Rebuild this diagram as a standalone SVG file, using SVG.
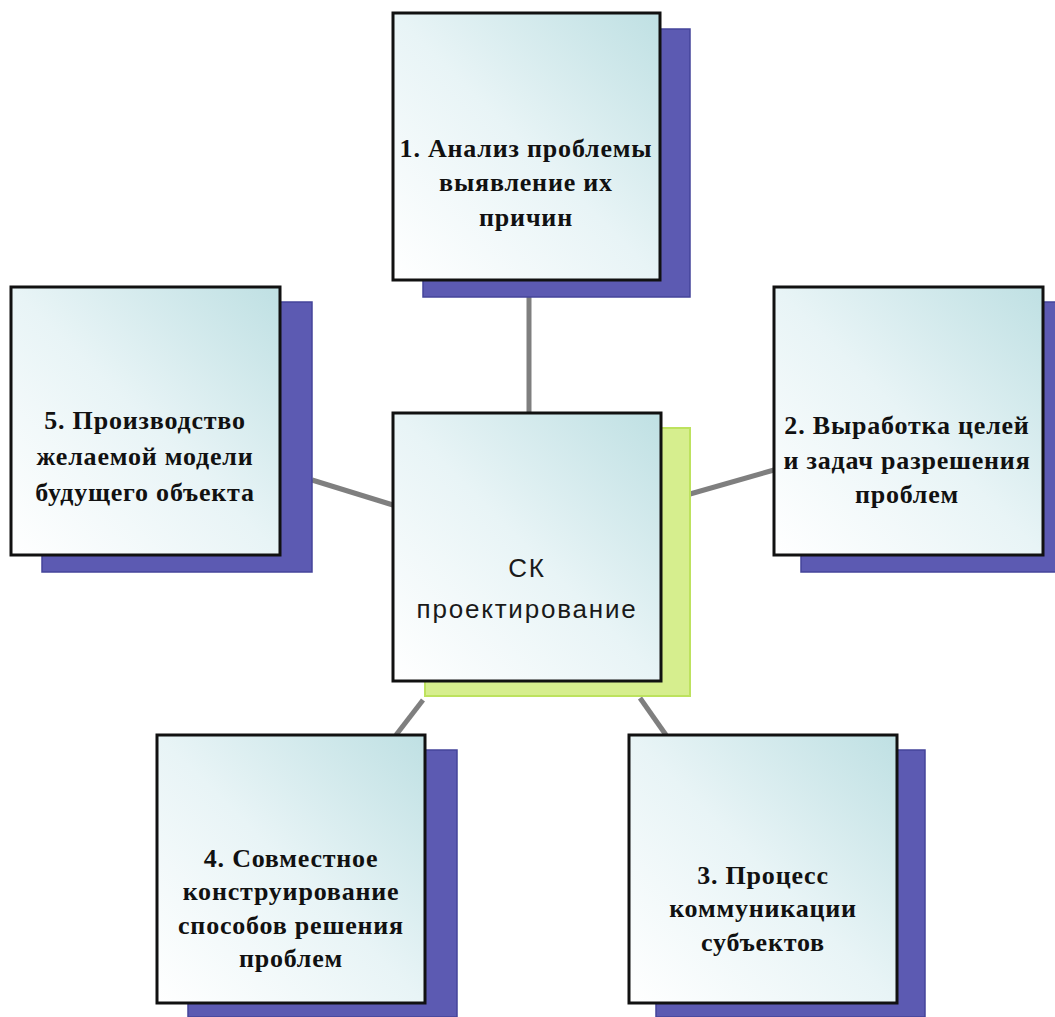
<svg xmlns="http://www.w3.org/2000/svg" width="1055" height="1017" viewBox="0 0 1055 1017">
<defs>
<linearGradient id="g" x1="0" y1="1" x2="1" y2="0">
<stop offset="0" stop-color="#ffffff"/>
<stop offset="0.5" stop-color="#e8f4f6"/>
<stop offset="1" stop-color="#bfe0e3"/>
</linearGradient>
</defs>
<style>
.front{fill:url(#g);stroke:#111;stroke-width:3}
.shadow{fill:#5c5ab2;stroke:#44449a;stroke-width:1.5}
.shadowc{fill:#d6ee8e;stroke:#bde25e;stroke-width:2}
.conn{stroke:#7f7f7f;stroke-width:5;fill:none}
.t{font-family:"Liberation Serif","Times New Roman",serif;font-weight:bold;font-size:26px;fill:#111;text-anchor:middle;letter-spacing:0.8px}
.tc{font-family:"Liberation Sans",Arial,sans-serif;font-size:26px;fill:#1a1a1a;text-anchor:middle;letter-spacing:1.8px}
</style>
<rect width="1055" height="1017" fill="#ffffff"/>
<g id="connectors">
<line class="conn" x1="529" y1="297" x2="529" y2="413"/>
<line class="conn" x1="312" y1="480" x2="393" y2="505"/>
<line class="conn" x1="690" y1="494" x2="774" y2="470"/>
<line class="conn" x1="423" y1="700" x2="396" y2="735"/>
<line class="conn" x1="640" y1="698" x2="666" y2="735"/>
</g>
<g id="node1">
<rect class="shadow" x="423" y="29" width="267" height="268"/>
<rect class="front" x="393" y="13" width="267" height="267"/>
<text class="t" x="526" y="157">1. Анализ проблемы</text>
<text class="t" x="526" y="191">выявление их</text>
<text class="t" x="526" y="226">причин</text>
</g>
<g id="node2">
<rect class="shadow" x="801" y="302" width="260" height="270"/>
<rect class="front" x="774" y="287" width="269" height="268"/>
<text class="t" x="907" y="434">2. Выработка целей</text>
<text class="t" x="907" y="469">и задач разрешения</text>
<text class="t" x="907" y="503">проблем</text>
</g>
<g id="node3">
<rect class="shadow" x="656" y="750" width="269" height="267"/>
<rect class="front" x="629" y="735" width="268" height="268"/>
<text class="t" x="763" y="884">3. Процесс</text>
<text class="t" x="763" y="917">коммуникации</text>
<text class="t" x="763" y="951">субъектов</text>
</g>
<g id="node4">
<rect class="shadow" x="188" y="750" width="269" height="267"/>
<rect class="front" x="157" y="735" width="268" height="268"/>
<text class="t" x="291" y="867">4. Совместное</text>
<text class="t" x="291" y="900">конструирование</text>
<text class="t" x="291" y="934">способов решения</text>
<text class="t" x="291" y="967">проблем</text>
</g>
<g id="node5">
<rect class="shadow" x="42" y="302" width="270" height="270"/>
<rect class="front" x="11" y="287" width="269" height="268"/>
<text class="t" x="145" y="429">5. Производство</text>
<text class="t" x="145" y="465">желаемой модели</text>
<text class="t" x="145" y="501">будущего объекта</text>
</g>
<g id="center">
<rect class="shadowc" x="425" y="428" width="265" height="268"/>
<rect class="front" x="393" y="413" width="268" height="268"/>
<text class="tc" x="527" y="577">СК</text>
<text class="tc" x="527" y="618">проектирование</text>
</g>
</svg>
